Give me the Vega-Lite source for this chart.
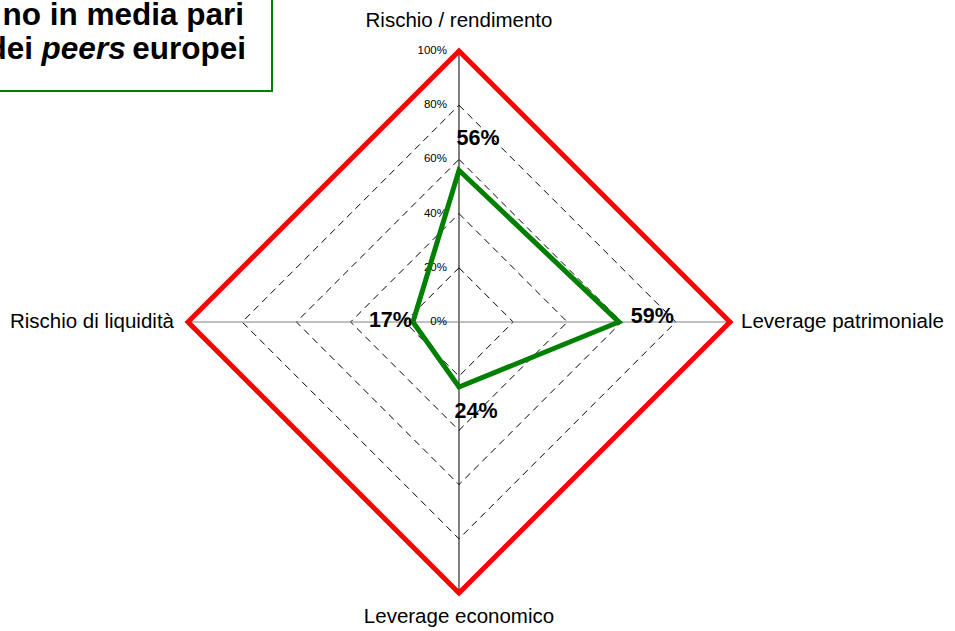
{
  "$schema": "https://vega.github.io/schema/vega-lite/v6.json",
  "width": 955,
  "height": 631,
  "autosize": {"type": "none"},
  "padding": 0,
  "background": "white",
  "config": {"view": {"stroke": null}, "font": "Liberation Sans"},
  "datasets": {
    "series": [
      {"axis": "Rischio / rendimento", "k": 0, "value": 56, "label": "56%"},
      {"axis": "Leverage patrimoniale", "k": 1, "value": 59, "label": "59%"},
      {"axis": "Leverage economico", "k": 2, "value": 24, "label": "24%"},
      {"axis": "Rischio di liquidità", "k": 3, "value": 17, "label": "17%"}
    ],
    "grid": [
      {"level": 20, "k": 0}, {"level": 20, "k": 1}, {"level": 20, "k": 2}, {"level": 20, "k": 3},
      {"level": 40, "k": 0}, {"level": 40, "k": 1}, {"level": 40, "k": 2}, {"level": 40, "k": 3},
      {"level": 60, "k": 0}, {"level": 60, "k": 1}, {"level": 60, "k": 2}, {"level": 60, "k": 3},
      {"level": 80, "k": 0}, {"level": 80, "k": 1}, {"level": 80, "k": 2}, {"level": 80, "k": 3},
      {"level": 100, "k": 0}, {"level": 100, "k": 1}, {"level": 100, "k": 2}, {"level": 100, "k": 3}
    ],
    "ticks": [
      {"level": 0, "text": "0%"}, {"level": 20, "text": "20%"}, {"level": 40, "text": "40%"},
      {"level": 60, "text": "60%"}, {"level": 80, "text": "80%"}, {"level": 100, "text": "100%"}
    ],
    "spokes": [
      {"x": 0, "y": -100, "x2": 0, "y2": 100, "dir": "v"},
      {"x": -100, "y": 0, "x2": 100, "y2": 0, "dir": "h"}
    ],
    "box": [{"x": -175, "x2": -69.0, "y": 85.2, "y2": 125}],
    "note": [
      {"part": "l1", "text": "no in media pari", "style": "normal", "x": -79.3, "y": 109.6},
      {"part": "dei", "text": "dei", "style": "normal", "x": -157.2, "y": 97.2},
      {"part": "peers", "text": "peers", "style": "italic", "x": -123.0, "y": 97.2},
      {"part": "europei", "text": "europei", "style": "normal", "x": -78.6, "y": 97.2}
    ]
  },
  "layer": [
    {
      "data": {"name": "grid"},
      "transform": [
        {"filter": "datum.level < 100"},
        {"calculate": "datum.level * sin(datum.k * PI / 2)", "as": "x"},
        {"calculate": "datum.level * cos(datum.k * PI / 2)", "as": "y"}
      ],
      "mark": {"type": "line", "interpolate": "linear-closed", "color": "black", "strokeWidth": 1, "strokeDash": [7, 5]},
      "encoding": {
        "x": {"field": "x", "type": "quantitative", "scale": {"domain": [-169.37, 183.03], "nice": false, "zero": false}, "axis": null},
        "y": {"field": "y", "type": "quantitative", "scale": {"domain": [-114.02, 118.82], "nice": false, "zero": false}, "axis": null},
        "detail": {"field": "level"},
        "order": {"field": "k"}
      }
    },
    {
      "data": {"name": "spokes"},
      "mark": {"type": "rule", "strokeWidth": 1},
      "encoding": {
        "x": {"field": "x", "type": "quantitative"},
        "y": {"field": "y", "type": "quantitative"},
        "x2": {"field": "x2"},
        "y2": {"field": "y2"},
        "color": {"field": "dir", "type": "nominal", "scale": {"domain": ["v", "h"], "range": ["#000000", "#808080"]}, "legend": null}
      }
    },
    {
      "data": {"name": "grid"},
      "transform": [
        {"filter": "datum.level == 100"},
        {"calculate": "datum.level * sin(datum.k * PI / 2)", "as": "x"},
        {"calculate": "datum.level * cos(datum.k * PI / 2)", "as": "y"}
      ],
      "mark": {"type": "line", "interpolate": "linear-closed", "color": "#FF0000", "strokeWidth": 5, "strokeJoin": "miter"},
      "encoding": {
        "x": {"field": "x", "type": "quantitative"},
        "y": {"field": "y", "type": "quantitative"},
        "order": {"field": "k"}
      }
    },
    {
      "data": {"name": "ticks"},
      "mark": {"type": "text", "align": "right", "baseline": "middle", "dx": -12, "fontSize": 11.5, "color": "black"},
      "encoding": {
        "x": {"datum": 0, "type": "quantitative"},
        "y": {"field": "level", "type": "quantitative"},
        "text": {"field": "text"}
      }
    },
    {
      "data": {"name": "series"},
      "transform": [
        {"calculate": "datum.value * sin(datum.k * PI / 2)", "as": "x"},
        {"calculate": "datum.value * cos(datum.k * PI / 2)", "as": "y"}
      ],
      "mark": {"type": "line", "interpolate": "linear-closed", "color": "#008000", "strokeWidth": 5, "strokeJoin": "miter"},
      "encoding": {
        "x": {"field": "x", "type": "quantitative"},
        "y": {"field": "y", "type": "quantitative"},
        "order": {"field": "k"}
      }
    },
    {
      "data": {"name": "series"},
      "transform": [{"filter": "datum.k == 0"}],
      "mark": {"type": "text", "align": "center", "baseline": "middle", "dx": 19, "dy": -31.5, "fontSize": 21.5, "fontWeight": "bold", "color": "black"},
      "encoding": {"x": {"datum": 0, "type": "quantitative"}, "y": {"field": "value", "type": "quantitative"}, "text": {"field": "label"}}
    },
    {
      "data": {"name": "series"},
      "transform": [{"filter": "datum.k == 1"}],
      "mark": {"type": "text", "align": "center", "baseline": "middle", "dx": 33.5, "dy": -5.5, "fontSize": 21.5, "fontWeight": "bold", "color": "black"},
      "encoding": {"x": {"field": "value", "type": "quantitative"}, "y": {"datum": 0, "type": "quantitative"}, "text": {"field": "label"}}
    },
    {
      "data": {"name": "series"},
      "transform": [{"filter": "datum.k == 2"}, {"calculate": "-datum.value", "as": "y"}],
      "mark": {"type": "text", "align": "center", "baseline": "middle", "dx": 17, "dy": 24.5, "fontSize": 21.5, "fontWeight": "bold", "color": "black"},
      "encoding": {"x": {"datum": 0, "type": "quantitative"}, "y": {"field": "y", "type": "quantitative"}, "text": {"field": "label"}}
    },
    {
      "data": {"name": "series"},
      "transform": [{"filter": "datum.k == 3"}, {"calculate": "-datum.value", "as": "x"}],
      "mark": {"type": "text", "align": "center", "baseline": "middle", "dx": -22.5, "dy": -1.5, "fontSize": 21.5, "fontWeight": "bold", "color": "black"},
      "encoding": {"x": {"field": "x", "type": "quantitative"}, "y": {"datum": 0, "type": "quantitative"}, "text": {"field": "label"}}
    },
    {
      "data": {"name": "series"},
      "transform": [{"filter": "datum.k == 0"}],
      "mark": {"type": "text", "align": "center", "baseline": "middle", "dy": -30, "fontSize": 20.5, "color": "black"},
      "encoding": {"x": {"datum": 0, "type": "quantitative"}, "y": {"datum": 100, "type": "quantitative"}, "text": {"field": "axis"}}
    },
    {
      "data": {"name": "series"},
      "transform": [{"filter": "datum.k == 1"}],
      "mark": {"type": "text", "align": "left", "baseline": "middle", "dx": 11, "fontSize": 20.5, "color": "black"},
      "encoding": {"x": {"datum": 100, "type": "quantitative"}, "y": {"datum": 0, "type": "quantitative"}, "text": {"field": "axis"}}
    },
    {
      "data": {"name": "series"},
      "transform": [{"filter": "datum.k == 2"}],
      "mark": {"type": "text", "align": "center", "baseline": "middle", "dy": 24, "fontSize": 20.5, "color": "black"},
      "encoding": {"x": {"datum": 0, "type": "quantitative"}, "y": {"datum": -100, "type": "quantitative"}, "text": {"field": "axis"}}
    },
    {
      "data": {"name": "series"},
      "transform": [{"filter": "datum.k == 3"}],
      "mark": {"type": "text", "align": "right", "baseline": "middle", "dx": -14, "fontSize": 20.5, "color": "black"},
      "encoding": {"x": {"datum": -100, "type": "quantitative"}, "y": {"datum": 0, "type": "quantitative"}, "text": {"field": "axis"}}
    },
    {
      "data": {"name": "box"},
      "mark": {"type": "rect", "fill": "white", "stroke": "#008000", "strokeWidth": 2},
      "encoding": {
        "x": {"field": "x", "type": "quantitative"},
        "x2": {"field": "x2"},
        "y": {"field": "y", "type": "quantitative"},
        "y2": {"field": "y2"}
      }
    },
    {
      "data": {"name": "note"},
      "transform": [{"filter": "datum.style == 'normal'"}],
      "mark": {"type": "text", "align": "right", "baseline": "alphabetic", "fontSize": 31.5, "fontWeight": "bold", "color": "black"},
      "encoding": {
        "x": {"field": "x", "type": "quantitative"},
        "y": {"field": "y", "type": "quantitative"},
        "text": {"field": "text"}
      }
    },
    {
      "data": {"name": "note"},
      "transform": [{"filter": "datum.style == 'italic'"}],
      "mark": {"type": "text", "align": "right", "baseline": "alphabetic", "fontSize": 31.5, "fontWeight": "bold", "fontStyle": "italic", "color": "black"},
      "encoding": {
        "x": {"field": "x", "type": "quantitative"},
        "y": {"field": "y", "type": "quantitative"},
        "text": {"field": "text"}
      }
    }
  ]
}
